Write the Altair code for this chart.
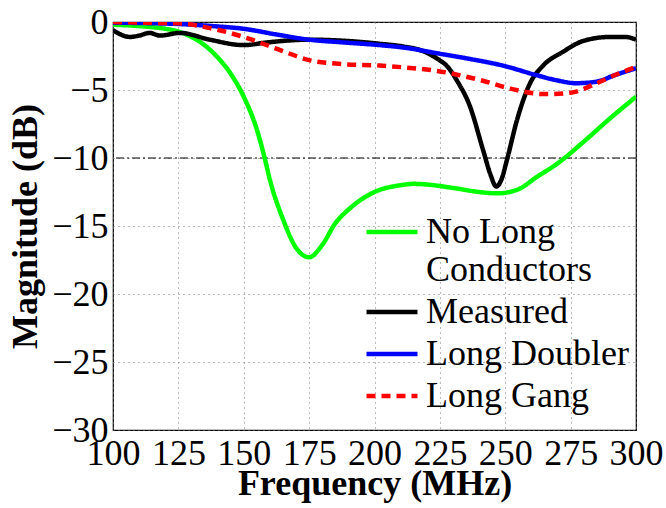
import altair as alt
import pandas as pd

# Series: No Long Conductors
green_f = [100, 110, 120, 125, 130, 135, 140, 145, 150, 155, 158, 160, 165, 170, 175, 180, 185, 190, 200, 210, 215, 220, 230, 240, 247, 255, 262, 270, 280, 290, 300]
green_db = [-0.2, -0.3, -0.5, -0.7, -1.1, -1.7, -2.6, -3.8, -5.5, -7.9, -10.0, -11.6, -14.5, -16.6, -17.3, -16.4, -14.8, -13.8, -12.5, -12.0, -11.9, -11.95, -12.2, -12.5, -12.6, -12.3, -11.4, -10.4, -8.8, -7.1, -5.5]

# Series: Measured
black_f = [100, 106.5, 110, 114, 118, 125.6, 137, 150, 159, 175, 190, 202, 211, 218, 224, 228, 231.5, 236.5, 241.5, 244.5, 246.5, 248.5, 250.7, 254.5, 259.5, 264.5, 272, 279.7, 290, 296, 300]
black_db = [-0.6, -1.1, -1.0, -0.8, -1.0, -0.8, -1.3, -1.7, -1.5, -1.3, -1.4, -1.6, -1.8, -2.1, -2.7, -3.3, -4.3, -6.2, -9.4, -11.3, -12.1, -11.6, -10.1, -7.2, -4.5, -3.2, -2.2, -1.4, -1.1, -1.1, -1.3]

# Series: Long Doubler
blue_f = [100, 112, 125.6, 138, 150, 162, 175, 188, 202, 212, 224, 236, 249, 261.8, 270, 277, 284.6, 292, 300]
blue_db = [-0.05, -0.08, -0.15, -0.3, -0.5, -0.9, -1.3, -1.5, -1.7, -1.9, -2.3, -2.7, -3.2, -3.9, -4.3, -4.5, -4.4, -3.9, -3.4]

# Series: Long Gang
red_f = [100, 112, 125.6, 137, 150, 163, 175, 188, 202, 212, 224, 241, 252, 265, 275, 285, 292, 300]
red_db = [0.0, -0.05, -0.1, -0.45, -1.1, -2.0, -2.8, -3.1, -3.2, -3.35, -3.6, -4.3, -4.9, -5.3, -5.2, -4.5, -3.9, -3.3]

series_names = ["No Long Conductors", "Measured", "Long Doubler", "Long Gang"]
series_colors = ["#00ff00", "#000000", "#0000ff", "#ff0000"]
series_dash = [[1, 0], [1, 0], [1, 0], [9, 6]]

x_ticks = [100, 125, 150, 175, 200, 225, 250, 275, 300]
y_ticks = [0, -5, -10, -15, -20, -25, -30]
ref_level = [-10]

rows = []
for name, fs, ds in zip(series_names, [green_f, black_f, blue_f, red_f], [green_db, black_db, blue_db, red_db]):
    for f, d in zip(fs, ds):
        rows.append({"series": name, "freq": f, "mag": d})
df = pd.DataFrame(rows)

FONT = "Liberation Serif"

x_enc = alt.X("freq:Q", scale=alt.Scale(domain=[100, 300], nice=False),
              axis=alt.Axis(values=x_ticks, title="Frequency (MHz)"))
y_enc = alt.Y("mag:Q", scale=alt.Scale(domain=[-30, 0], nice=False),
              axis=alt.Axis(values=y_ticks, title="Magnitude (dB)"))

lines = alt.Chart(df).mark_line(strokeWidth=4.5, interpolate="monotone", clip=True).encode(
    x=x_enc,
    y=y_enc,
    color=alt.Color("series:N", sort=series_names,
                    scale=alt.Scale(domain=series_names, range=series_colors),
                    legend=alt.Legend(
                        title=None, orient="none", legendX=261, legendY=192,
                        symbolType="M-2,0H2", symbolSize=650, symbolStrokeWidth=4.5,
                        labelFont=FONT, labelFontSize=36, labelColor="black",
                        labelLimit=400, rowPadding=6, labelOffset=16,
                        labelExpr="datum.label == 'No Long Conductors' ? ['No Long', 'Conductors'] : datum.label")),
    strokeDash=alt.StrokeDash("series:N", sort=series_names,
                              scale=alt.Scale(domain=series_names, range=series_dash),
                              legend=None),
    order=alt.Order("series:N"),
)

ref = alt.Chart(pd.DataFrame({"mag": ref_level})).mark_rule(
    color="black", strokeWidth=1, strokeDash=[8, 3, 2, 3]).encode(y=alt.Y("mag:Q"))

chart = alt.layer(ref, lines).properties(
    width=523, height=408,
    autosize=alt.AutoSizeParams(type="none"),
    padding={"left": 113, "top": 22, "right": 30, "bottom": 78},
    background="white",
).configure_view(
    stroke="black", strokeWidth=1.2
).configure_axis(
    labelFont=FONT, labelFontSize=36, labelColor="black",
    titleFont=FONT, titleFontSize=36, titleFontWeight="bold", titleColor="black",
    grid=True, gridColor="#777777", gridDash=[1, 4], gridWidth=1,
    domain=False, ticks=False, labelFlush=False, labelOverlap=False,
).configure_axisX(
    labelPadding=6, titlePadding=-5
).configure_axisY(
    labelPadding=5, titlePadding=7
)

chart.save("out.html", embed_options={"renderer": "svg", "actions": False})
